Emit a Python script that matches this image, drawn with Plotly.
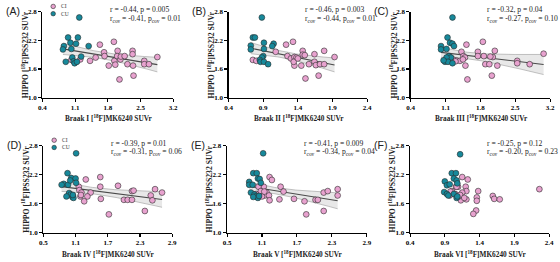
import numpy as np
import plotly.graph_objects as go

W, H = 560, 262

# ---------------- data ----------------
A_CU_X = [1.19, 0.95, 1.16, 1.00, 1.12, 1.39, 0.86, 0.84, 1.02, 1.04, 1.23, 0.90, 1.07, 1.09, 1.14]
A_CU_Y = [2.68, 2.26, 2.26, 2.15, 2.13, 2.08, 2.08, 2.01, 2.02, 1.84, 1.86, 1.75, 1.76, 1.72, 1.75]
A_CI_X = [1.02, 1.21, 1.42, 1.54, 1.63, 1.72, 1.73, 1.82, 1.93, 1.94, 1.96, 2.01, 2.00, 2.05, 2.07, 2.08,
          2.16, 2.22, 2.33, 2.33, 2.34, 2.35, 2.58, 2.58, 2.68, 2.86]
A_CI_Y = [1.79, 1.80, 1.77, 1.84, 2.11, 1.95, 1.87, 1.67, 2.17, 1.77, 1.69, 1.98, 1.87, 1.38, 1.80, 1.86,
          1.87, 1.70, 1.98, 1.91, 1.67, 1.46, 1.77, 1.70, 1.70, 1.85]

B_CU_X = [0.88, 0.75, 0.78, 0.91, 1.05, 1.03, 0.91, 0.72, 0.72, 0.90, 0.88, 0.85, 0.86, 0.91, 0.97]
B_CU_Y = [2.68, 2.26, 2.26, 2.15, 2.13, 2.08, 2.02, 2.09, 2.01, 1.87, 1.84, 1.79, 1.75, 1.75, 1.70]
B_CI_X = [1.08, 1.23, 1.33, 1.25, 1.30, 1.35, 1.38, 1.35, 1.34, 1.47, 1.47, 1.50, 1.45, 1.56, 1.64, 1.64,
          1.66, 1.72, 1.78, 1.78, 1.93, 1.51, 1.70, 0.75, 0.80, 1.40]
B_CI_Y = [1.96, 2.11, 2.17, 1.87, 1.82, 1.85, 1.84, 1.67, 1.75, 1.98, 1.90, 1.89, 1.67, 1.70, 1.91, 1.75,
          1.68, 1.70, 1.70, 1.98, 1.85, 1.40, 1.46, 1.79, 1.77, 1.82]

C_CU_X = [1.24, 1.14, 1.19, 1.24, 1.27, 1.01, 1.01, 1.12, 1.17, 1.21, 1.12, 1.09, 1.15, 1.24, 1.06]
C_CU_Y = [2.68, 2.26, 2.15, 2.13, 2.08, 2.08, 2.01, 2.02, 1.87, 1.84, 1.84, 1.75, 1.75, 1.72, 1.78]
C_CI_X = [1.52, 1.85, 1.42, 1.46, 1.49, 1.32, 1.39, 1.50, 1.75, 1.75, 1.87, 1.90, 1.98, 2.05, 2.09, 2.14,
          2.54, 2.54, 2.79, 3.07, 1.54, 2.03, 1.25, 1.30, 1.45, 2.00]
C_CI_Y = [2.11, 2.17, 1.96, 1.87, 1.84, 1.78, 1.77, 1.67, 1.96, 1.87, 1.87, 1.70, 1.70, 1.85, 1.98, 1.67,
          1.77, 1.72, 1.70, 1.92, 1.38, 1.46, 1.80, 1.76, 1.80, 1.86]

D_CU_X = [1.11, 0.95, 1.02, 1.10, 1.11, 0.88, 0.84, 0.96, 0.98, 1.01, 1.04, 1.06, 0.93, 1.00, 1.05]
D_CU_Y = [2.64, 2.23, 2.13, 2.12, 2.03, 2.01, 1.99, 1.99, 1.82, 1.79, 1.74, 1.72, 1.75, 2.08, 1.78]
D_CI_X = [1.29, 1.56, 1.56, 1.89, 2.15, 2.18, 2.58, 2.71, 2.50, 2.53, 2.00, 2.07, 2.15, 1.57, 1.26, 1.38,
          1.72, 2.39, 1.16, 1.17, 1.21, 1.32, 1.19, 1.05, 1.20, 0.98]
D_CI_Y = [2.10, 2.15, 1.95, 1.97, 1.86, 1.87, 1.90, 1.83, 1.77, 1.67, 1.68, 1.68, 1.68, 1.70, 1.65, 1.83,
          1.38, 1.45, 1.95, 1.88, 1.83, 1.75, 1.75, 1.76, 1.78, 1.80]

E_CU_X = [1.12, 0.95, 1.01, 1.03, 1.06, 1.08, 0.88, 0.88, 0.94, 0.91, 0.97, 0.99, 1.03, 0.95, 1.05]
E_CU_Y = [2.64, 2.23, 2.23, 2.12, 2.11, 2.03, 2.05, 1.99, 1.99, 1.83, 1.79, 1.75, 1.72, 1.74, 1.76]
E_CI_X = [1.23, 1.27, 1.13, 1.04, 1.42, 1.47, 1.18, 1.15, 1.22, 1.23, 1.40, 1.65, 1.83, 2.02, 2.06, 2.16,
          2.23, 2.40, 2.40, 1.86, 2.16, 1.00, 1.08, 0.98, 1.10, 1.14]
E_CI_Y = [2.15, 2.09, 1.95, 1.95, 1.95, 1.85, 1.83, 1.77, 1.77, 1.67, 1.69, 1.70, 1.65, 1.68, 1.68, 1.83,
          1.86, 1.90, 1.77, 1.38, 1.45, 1.80, 1.86, 1.78, 1.75, 1.85]

F_CU_X = [1.12, 1.00, 1.06, 1.03, 1.07, 1.08, 0.90, 0.93, 0.97, 0.89, 0.93, 1.03, 1.07, 1.08, 0.95]
F_CU_Y = [2.62, 2.23, 2.23, 2.12, 2.08, 2.02, 2.06, 1.98, 2.00, 1.84, 1.80, 1.80, 1.72, 1.75, 1.77]
F_CI_X = [1.15, 1.23, 1.09, 1.20, 1.06, 1.21, 1.15, 1.38, 1.36, 1.59, 1.61, 1.69, 2.26, 1.35, 1.31, 1.21,
          1.13, 1.10, 0.97, 1.00, 1.07, 1.36, 1.05, 1.12, 0.98, 1.18]
F_CI_Y = [2.15, 2.10, 1.95, 1.95, 1.95, 1.86, 1.83, 1.86, 1.73, 1.76, 1.70, 1.69, 1.90, 1.46, 1.39, 1.69,
          1.67, 1.75, 1.77, 1.86, 1.95, 1.66, 1.80, 1.78, 1.85, 1.72]

X_TICKS_WIDE = [0.4, 1.1, 1.8, 2.5, 3.2]
X_TICKS_NARROW = [0.4, 0.9, 1.4, 1.9, 2.4]
X_TICKS_MID = [0.5, 1.1, 1.7, 2.3, 2.9]
Y_TICKS = [1.0, 1.6, 2.2, 2.8]

PANEL_LABELS = ["(A)", "(B)", "(C)", "(D)", "(E)", "(F)"]
REGIONS = ["I", "II", "III", "IV", "V", "VI"]
STAT_R = ["-0.44", "-0.46", "-0.32", "-0.39", "-0.41", "-0.25"]
STAT_P = ["0.005", "0.003", "0.04", "0.01", "0.009", "0.12"]
STAT_RCOV = ["-0.41", "-0.44", "-0.27", "-0.31", "-0.34", "-0.20"]
STAT_PCOV = ["0.01", "0.01", "0.10", "0.06", "0.04", "0.23"]
SHOW_FIT = [True, True, True, True, True, False]

# ---------------- styling / layout ----------------
CI_COLOR = "#E8A2CF"
CU_COLOR = "#17899B"
EDGE = "#2b2b2b"
SERIF = "Liberation Serif, Times New Roman, serif"
SANS = "Liberation Sans, Arial, sans-serif"

# pixel boxes of each plot area: (left, right, top, bottom)
BOXES = [(39, 172, 8, 96.5), (228.3, 369, 8, 96.5), (413.3, 555, 8, 96.5),
         (40, 171, 146, 236), (226.7, 368.7, 146, 236), (412.7, 554, 146, 236)]

panels = [
    (A_CU_X, A_CU_Y, A_CI_X, A_CI_Y, X_TICKS_WIDE),
    (B_CU_X, B_CU_Y, B_CI_X, B_CI_Y, X_TICKS_NARROW),
    (C_CU_X, C_CU_Y, C_CI_X, C_CI_Y, X_TICKS_WIDE),
    (D_CU_X, D_CU_Y, D_CI_X, D_CI_Y, X_TICKS_MID),
    (E_CU_X, E_CU_Y, E_CI_X, E_CI_Y, X_TICKS_MID),
    (F_CU_X, F_CU_Y, F_CI_X, F_CI_Y, X_TICKS_NARROW),
]


def px(x):
    return x / W


def py(y):
    return 1 - y / H


fig = go.Figure()
annotations = []
shapes = []
layout_axes = {}

for i, (cux, cuy, cix, ciy, xt) in enumerate(panels):
    n = i + 1
    xa = "x" if n == 1 else f"x{n}"
    ya = "y" if n == 1 else f"y{n}"
    l, r, t, b = BOXES[i]

    # regression over all subjects with 95% confidence band
    if SHOW_FIT[i]:
        allx = np.array(cux + cix, dtype=float)
        ally = np.array(cuy + ciy, dtype=float)
        slope, icpt = np.polyfit(allx, ally, 1)
        nn = len(allx)
        resid = ally - (slope * allx + icpt)
        s = np.sqrt(np.sum(resid ** 2) / (nn - 2))
        xm = allx.mean()
        sxx = np.sum((allx - xm) ** 2)
        gx = np.linspace(allx.min(), allx.max(), 60)
        gy = slope * gx + icpt
        half = 2.02 * s * np.sqrt(1 / nn + (gx - xm) ** 2 / sxx)
        fig.add_trace(go.Scatter(x=gx, y=gy + half, mode="lines", line=dict(color="#9a9a9a", width=0.6),
                                 xaxis=xa, yaxis=ya, showlegend=False, hoverinfo="skip"))
        fig.add_trace(go.Scatter(x=gx, y=gy - half, mode="lines", line=dict(color="#9a9a9a", width=0.6),
                                 fill="tonexty", fillcolor="rgba(205,205,205,0.45)",
                                 xaxis=xa, yaxis=ya, showlegend=False, hoverinfo="skip"))
        fig.add_trace(go.Scatter(x=gx, y=gy, mode="lines", line=dict(color="#4a4a4a", width=1.1),
                                 xaxis=xa, yaxis=ya, showlegend=False, hoverinfo="skip"))

    fig.add_trace(go.Scatter(x=cix, y=ciy, mode="markers", name="CI",
                             marker=dict(color=CI_COLOR, size=5.8, line=dict(color=EDGE, width=0.6)),
                             xaxis=xa, yaxis=ya, showlegend=False))
    fig.add_trace(go.Scatter(x=cux, y=cuy, mode="markers", name="CU",
                             marker=dict(color=CU_COLOR, size=5.8, line=dict(color=EDGE, width=0.6)),
                             xaxis=xa, yaxis=ya, showlegend=False))

    axis_common = dict(showline=True, linecolor="black", linewidth=1.3, ticks="outside", ticklen=3,
                       tickwidth=1.1, tickcolor="black", showgrid=False, zeroline=False,
                       tickfont=dict(family=SERIF, size=7, color="black", weight="bold"))
    xkey = "xaxis" if n == 1 else f"xaxis{n}"
    ykey = "yaxis" if n == 1 else f"yaxis{n}"
    layout_axes[xkey] = dict(axis_common, domain=[px(l), px(r)], anchor=ya, range=[xt[0], xt[-1]],
                             tickvals=xt, ticktext=[f"{v:.1f}" for v in xt])
    layout_axes[ykey] = dict(axis_common, domain=[py(b), py(t)], anchor=xa, range=[Y_TICKS[0], Y_TICKS[-1]],
                             tickvals=Y_TICKS, ticktext=[f"{v:.1f}" for v in Y_TICKS])

    # axis titles
    annotations.append(dict(text=f"Braak {REGIONS[i]} [<sup>18</sup>F]MK6240 SUVr", xref="paper", yref="paper",
                            x=px((l + r) / 2 + 1), y=py(b + 21.5), xanchor="center", yanchor="middle",
                            showarrow=False, font=dict(family=SERIF, size=7.3, color="#222", weight="bold")))
    annotations.append(dict(text="HIPPO [<sup>18</sup>F]PSS232 SUVr", xref="paper", yref="paper",
                            x=px(l - 18), y=py((t + b) / 2), xanchor="center", yanchor="middle", textangle=-90,
                            showarrow=False, font=dict(family=SERIF, size=7.7, color="#222", weight="bold")))
    # panel label
    annotations.append(dict(text=PANEL_LABELS[i], xref="paper", yref="paper",
                            x=px(l - 39), y=py(t - 1), xanchor="left", yanchor="middle",
                            showarrow=False, font=dict(family=SANS, size=10.5, color="#222")))
    # statistics
    sx = l + 67 if i in (0, 3) else l + 76
    annotations.append(dict(text=f"r = {STAT_R[i]}, p = {STAT_P[i]}", xref="paper", yref="paper",
                            x=px(sx), y=py(t - 2), xanchor="left", yanchor="middle",
                            showarrow=False, font=dict(family=SERIF, size=7.6, color="#222")))
    annotations.append(dict(text=f"r<sub>cov</sub> = {STAT_RCOV[i]}, p<sub>cov</sub> = {STAT_PCOV[i]}",
                            xref="paper", yref="paper", x=px(sx), y=py(t + 7), xanchor="left", yanchor="middle",
                            showarrow=False, font=dict(family=SERIF, size=7.6, color="#222")))

    # in-panel key (panels A and D)
    if i in (0, 3):
        for (lab, col, dy) in (("CI", CI_COLOR, -5.5), ("CU", CU_COLOR, 2.0)):
            cx, cy, rad = l + 11, t + dy, 2.3
            shapes.append(dict(type="circle", xref="paper", yref="paper",
                               x0=px(cx - rad), x1=px(cx + rad), y0=py(cy + rad), y1=py(cy - rad),
                               fillcolor=col, line=dict(color=EDGE, width=0.6)))
            annotations.append(dict(text=lab, xref="paper", yref="paper", x=px(cx + 6), y=py(cy),
                                    xanchor="left", yanchor="middle", showarrow=False,
                                    font=dict(family=SERIF, size=5.5, color="#333")))

fig.update_layout(width=W, height=H, margin=dict(l=0, r=0, t=0, b=0),
                  paper_bgcolor="white", plot_bgcolor="white", showlegend=False, hovermode=False,
                  annotations=annotations, shapes=shapes, **layout_axes)

fig.write_html("out.html", config={"displayModeBar": False, "staticPlot": True},
               post_script="document.body.style.margin='0px';document.body.style.overflow='hidden';")
